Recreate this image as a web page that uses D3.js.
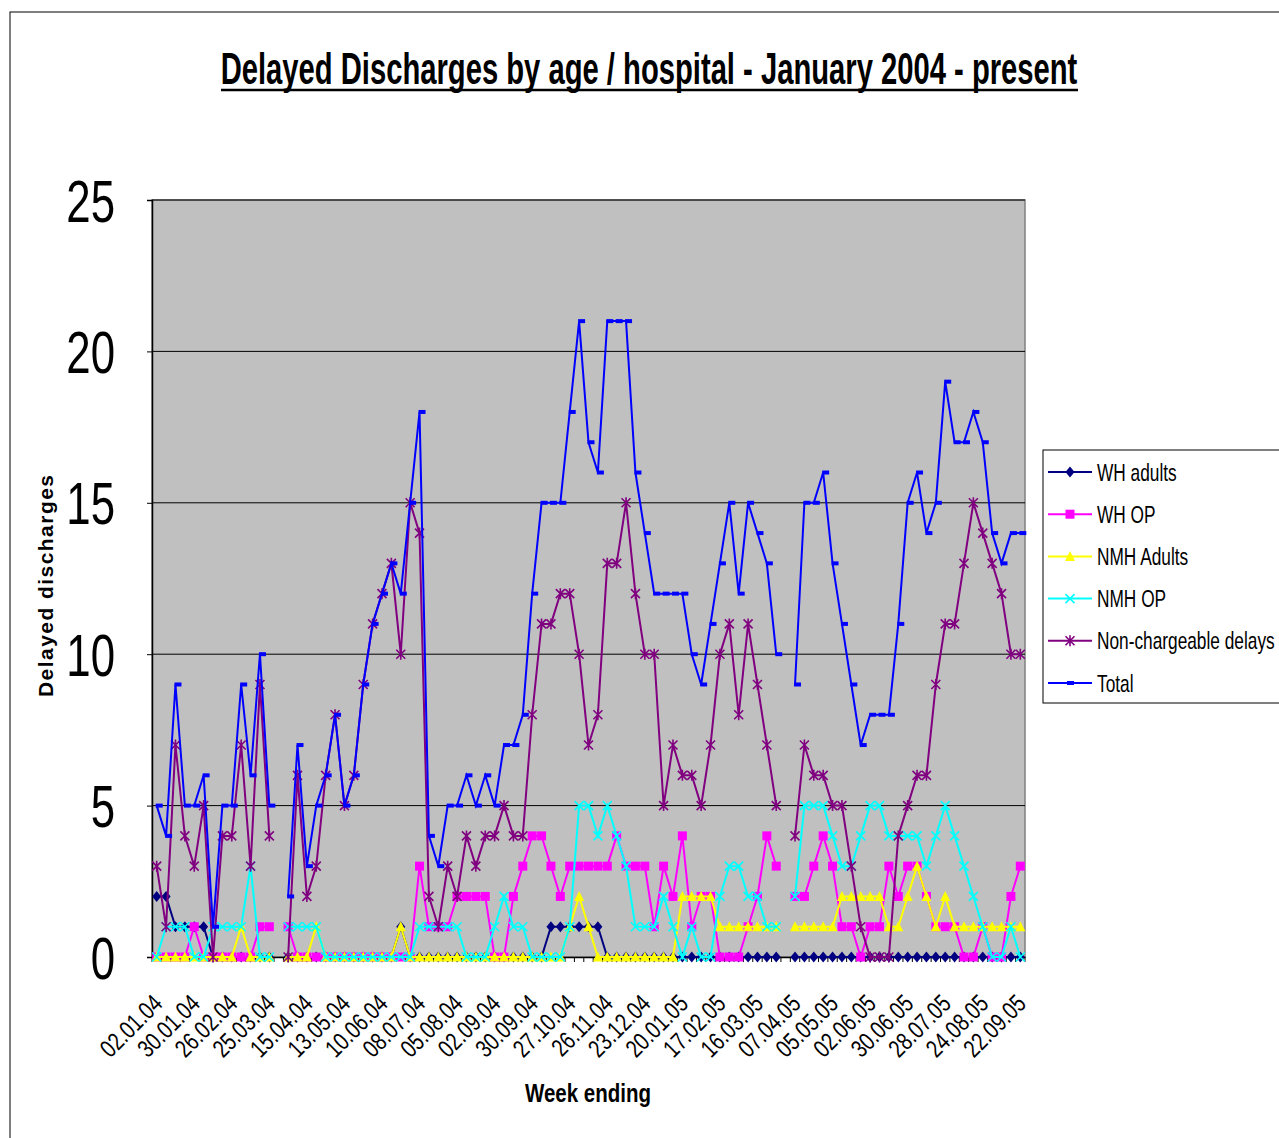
<!DOCTYPE html>
<html>
<head>
<meta charset="utf-8">
<title>Delayed Discharges</title>
<script src="https://d3js.org/d3.v7.min.js"></script>
<style>
  body { margin: 0; background: #fff; }
  svg { display: block; }
  text { font-family: "Liberation Sans", Arial, sans-serif; }
</style>
</head>
<body>
<script>
// week ending labels (one per row of the sheet, every 4th is shown)
var weeks = ["02.01.04","09.01.04","16.01.04","23.01.04","30.01.04","06.02.04","13.02.04","20.02.04",
  "26.02.04","04.03.04","11.03.04","18.03.04","25.03.04","01.04.04","07.04.04","08.04.04",
  "15.04.04","22.04.04","29.04.04","06.05.04","13.05.04","20.05.04","27.05.04","03.06.04",
  "10.06.04","17.06.04","24.06.04","01.07.04","08.07.04","15.07.04","22.07.04","29.07.04",
  "05.08.04","12.08.04","19.08.04","26.08.04","02.09.04","09.09.04","16.09.04","23.09.04",
  "30.09.04","07.10.04","14.10.04","21.10.04","27.10.04","04.11.04","11.11.04","18.11.04",
  "26.11.04","02.12.04","09.12.04","16.12.04","23.12.04","30.12.04","06.01.05","13.01.05",
  "20.01.05","27.01.05","03.02.05","10.02.05","17.02.05","24.02.05","03.03.05","10.03.05",
  "16.03.05","22.03.05","24.03.05","31.03.05","07.04.05","14.04.05","21.04.05","28.04.05",
  "05.05.05","12.05.05","19.05.05","26.05.05","02.06.05","09.06.05","16.06.05","23.06.05",
  "30.06.05","07.07.05","14.07.05","21.07.05","28.07.05","04.08.05","11.08.05","18.08.05",
  "24.08.05","01.09.05","08.09.05","15.09.05","22.09.05"];

var whAdults = [2,2,1,1,1,1,0,0,0,0,0,0,0,null,
  0,0,0,0,0,0,0,0,0,0,0,0,1,0,0,
  0,0,0,0,0,0,0,0,0,0,0,0,0,
  1,1,1,1,1,1,
  0,0,0,0,0,0,0,0,0,0,0,0,0,0,0,0,0,0,0,null,
  0,0,0,0,0,0,0,0,0,0,0,0,0,0,0,0,0,0,0,0,0,0,0,0,0];

var whOP = [0,0,0,0,1,0,0,0,0,0,0,1,1,null,
  1,0,0,0,0,0,0,0,0,0,0,0,0,0,3,
  1,1,1,2,2,2,2,0,0,2,3,4,4,
  3,2,3,3,3,3,3,4,3,3,3,1,3,2,4,
  1,2,2,0,0,0,1,2,4,3,null,
  2,2,3,4,3,1,1,0,1,1,3,2,3,3,2,1,1,1,0,0,1,0,0,2,3];

var nmhAdults = [0,0,0,0,0,0,0,0,0,1,0,0,0,null,
  0,0,0,1,0,0,0,0,0,0,0,0,1,0,0,
  0,0,0,0,0,0,0,0,0,0,0,0,0,
  0,0,1,2,1,0,0,0,0,0,0,0,0,0,2,
  2,2,2,1,1,1,1,1,1,1,null,
  1,1,1,1,1,2,2,2,2,2,1,1,2,3,2,1,2,1,1,1,1,1,1,1,1];

var nmhOP = [0,1,1,1,0,0,1,1,1,1,3,0,0,null,
  1,1,1,1,0,0,0,0,0,0,0,0,0,0,1,
  1,1,1,1,0,0,0,1,2,1,1,0,0,
  0,0,1,5,5,4,5,4,3,1,1,1,2,1,0,
  1,0,0,2,3,3,2,2,1,1,null,
  2,5,5,5,4,3,3,4,5,5,4,4,4,4,3,4,5,4,3,2,1,0,0,1,0];

var nonCharge = [3,1,7,4,3,5,0,4,4,7,3,9,4,null,
  0,6,2,3,6,8,5,6,9,11,12,13,10,15,14,
  2,1,3,2,4,3,4,4,5,4,4,
  8,11,11,12,12,10,7,8,13,13,15,12,10,10,5,7,6,
  6,5,7,10,11,8,11,9,7,5,null,
  4,7,6,6,5,5,3,1,0,0,0,4,5,6,6,9,11,11,13,15,14,13,12,10,10];

var total = [5,4,9,5,5,6,1,5,5,9,6,10,5,null,
  2,7,3,5,6,8,5,6,9,11,12,13,12,15,18,
  4,3,5,5,6,5,6,5,7,7,8,
  12,15,15,15,18,21,17,16,21,21,21,16,14,12,12,12,12,
  10,9,11,13,15,12,15,14,13,10,null,
  9,15,15,16,13,11,9,7,8,8,8,11,15,16,14,15,19,17,17,18,17,14,13,14,14];

var seriesNames = ["WH adults","WH OP","NMH Adults","NMH OP","Non-chargeable delays","Total"];
var seriesColors = ["#000080","#ff00ff","#ffff00","#00ffff","#800080","#0000ff"];
var seriesValues = [whAdults, whOP, nmhAdults, nmhOP, nonCharge, total];
var yTicks = [0,5,10,15,20,25];

var W = 1279, H = 1138;
var plot = {left: 152, right: 1025, top: 200, bottom: 957};
var NARROW = 0.82; // squeeze Liberation Sans to look like Arial Narrow

var svg = d3.select("body").append("svg")
  .attr("width", W).attr("height", H);

// chart frame
svg.append("rect").attr("x", 10).attr("y", 12).attr("width", W + 10).attr("height", H + 10)
  .attr("fill", "#fff").attr("stroke", "#000").attr("stroke-width", 1);

var x = d3.scaleBand().domain(d3.range(weeks.length)).range([plot.left, plot.right]).padding(0);
var y = d3.scaleLinear().domain([0, 25]).range([plot.bottom, plot.top]);
var cx = function(i) { return x(i) + x.bandwidth() / 2; };

// plot area
svg.append("rect").attr("x", plot.left).attr("y", plot.top)
  .attr("width", plot.right - plot.left).attr("height", plot.bottom - plot.top)
  .attr("fill", "#c0c0c0").attr("stroke", "#808080").attr("stroke-width", 1.5);

svg.selectAll(".grid").data(yTicks.filter(function(t) { return t > 0; })).enter()
  .append("line").attr("class", "grid")
  .attr("x1", plot.left).attr("x2", plot.right)
  .attr("y1", function(d) { return y(d); }).attr("y2", function(d) { return y(d); })
  .attr("stroke", "#000").attr("stroke-width", 1);

// y axis
var yAxis = d3.axisLeft(y).tickValues(yTicks).tickSize(5).tickFormat("");
var gy = svg.append("g").attr("transform", "translate(" + plot.left + ",0)").call(yAxis);
gy.select(".domain").attr("stroke", "#000").attr("stroke-width", 1.5);
svg.selectAll(".ylab").data(yTicks).enter()
  .append("text")
  .attr("transform", function(d) { return "translate(115," + y(d) + ") scale(0.73,1)"; })
  .attr("text-anchor", "end").attr("dy", "0.36em")
  .attr("font-size", 60)
  .text(function(d) { return d; });

// x axis
var xAxis = d3.axisBottom(x).tickSize(0).tickFormat("");
var gx = svg.append("g").attr("transform", "translate(0," + plot.bottom + ")").call(xAxis);
gx.select(".domain").attr("stroke", "#000").attr("stroke-width", 1.5);
gx.selectAll(".sep").data(d3.range(weeks.length + 1)).enter().append("line")
  .attr("x1", function(i) { return plot.left + i * x.bandwidth(); })
  .attr("x2", function(i) { return plot.left + i * x.bandwidth(); })
  .attr("y1", 0).attr("y2", 5).attr("stroke", "#000");

svg.selectAll(".xlab").data(d3.range(0, weeks.length, 4)).enter()
  .append("text")
  .attr("font-size", 25)
  .attr("text-anchor", "end")
  .attr("dy", "0.35em")
  .attr("transform", function(i) {
    return "translate(" + (cx(i) + 1) + ",999) rotate(-45) scale(0.78,1)";
  })
  .text(function(i) { return weeks[i]; });

// series
var symbols = {
  diamond: function(g, c) {
    g.append("path").attr("d", "M0,-5.5L4.5,0L0,5.5L-4.5,0Z").attr("fill", c);
  },
  square: function(g, c) {
    g.append("rect").attr("x", -4.5).attr("y", -4.5).attr("width", 9).attr("height", 9).attr("fill", c);
  },
  triangle: function(g, c) {
    g.append("path").attr("d", "M0,-5.5L5,4.5L-5,4.5Z").attr("fill", c);
  },
  cross: function(g, c) {
    g.append("path").attr("d", "M-4.5,-4.5L4.5,4.5M4.5,-4.5L-4.5,4.5")
      .attr("stroke", c).attr("stroke-width", 1.6).attr("fill", "none");
  },
  star: function(g, c) {
    g.append("path").attr("d", "M-4.5,-4.5L4.5,4.5M4.5,-4.5L-4.5,4.5M0,-5.5L0,5.5")
      .attr("stroke", c).attr("stroke-width", 1.6).attr("fill", "none");
  },
  dash: function(g, c) {
    g.append("rect").attr("x", -1).attr("y", -2).attr("width", 7).attr("height", 4).attr("fill", c);
  }
};
var markerKinds = ["diamond","square","triangle","cross","star","dash"];

var line = d3.line()
  .defined(function(d) { return d.v !== null; })
  .x(function(d) { return cx(d.i); })
  .y(function(d) { return y(d.v); });

seriesValues.forEach(function(vals, s) {
  var pts = vals.map(function(v, i) { return {i: i, v: v}; });
  var g = svg.append("g");
  g.append("path").datum(pts).attr("d", line)
    .attr("fill", "none").attr("stroke", seriesColors[s]).attr("stroke-width", 2);
  pts.filter(function(d) { return d.v !== null; }).forEach(function(d) {
    var m = g.append("g").attr("transform", "translate(" + cx(d.i) + "," + y(d.v) + ")");
    symbols[markerKinds[s]](m, seriesColors[s]);
  });
});

// titles
var title = svg.append("text")
  .attr("text-anchor", "middle")
  .attr("font-size", 44).attr("font-weight", "bold")
  .text("Delayed Discharges by age / hospital - January 2004 - present");
var tw = title.node().getComputedTextLength();
title.attr("transform", "translate(649,84) scale(" + (857 / tw) + ",1)");
svg.append("line").attr("x1", 221).attr("x2", 1078).attr("y1", 90).attr("y2", 90)
  .attr("stroke", "#000").attr("stroke-width", 2.5);

svg.append("text")
  .attr("transform", "translate(53,586) rotate(-90)").attr("text-anchor", "middle")
  .attr("font-size", 21).attr("font-weight", "bold")
  .attr("textLength", 222).attr("lengthAdjust", "spacing")
  .text("Delayed discharges");

svg.append("text")
  .attr("transform", "translate(588,1102) scale(" + NARROW + ",1)").attr("text-anchor", "middle")
  .attr("font-size", 25).attr("font-weight", "bold")
  .text("Week ending");

// legend
var lg = svg.append("g").attr("transform", "translate(1043,450)");
lg.append("rect").attr("width", 240).attr("height", 253)
  .attr("fill", "#fff").attr("stroke", "#000").attr("stroke-width", 1);
seriesNames.forEach(function(name, s) {
  var row = lg.append("g").attr("transform", "translate(0," + (22 + s * 42.2) + ")");
  row.append("line").attr("x1", 5).attr("x2", 49).attr("stroke", seriesColors[s]).attr("stroke-width", 2);
  var m = row.append("g").attr("transform", "translate(" + (s === 5 ? 25 : 27) + ",0)");
  symbols[markerKinds[s]](m, seriesColors[s]);
  row.append("text").attr("transform", "translate(54,0) scale(0.72,1)").attr("dy", "0.36em")
    .attr("font-size", 24).text(name);
});
</script>
</body>
</html>
